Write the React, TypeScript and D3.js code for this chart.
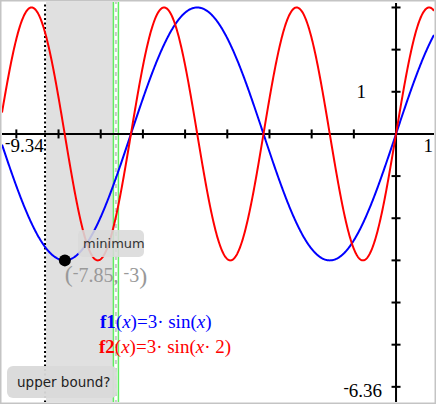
import React from "react";
import * as d3 from "d3";

const W = 436;
const H = 404;
const xDomain = [-9.34, 0.9];
const yDomain = [-6.36, 3.13];
const xTicks = [-9, -8, -7, -6, -5, -4, -3, -2, -1];
const yTicks = [3, 2, 1, -1, -2, -3, -4, -5, -6];
const xMinLabel = "⁻9.34";
const xMaxLabel = "1";
const yMinLabel = "⁻6.36";
const yTickLabel = "1";
const lowerBound = -8.32;
const upperBound = -6.64;
const minPoint = { x: -7.85, y: -3 };
const minLabelParts = ["⁻7.85", ", ", "⁻3"];
const f1 = (x: number) => 3 * Math.sin(x);
const f2 = (x: number) => 3 * Math.sin(x * 2);

function TiNum({ s, fs }: { s: string; fs: number }) {
  const parts = s.split("⁻");
  const out: any[] = [];
  parts.forEach((p, i) => {
    if (i > 0) {
      out.push(
        <tspan key={"m" + i} dy={-fs * 0.22} fontSize={fs * 0.85}>
          -
        </tspan>
      );
      out.push(
        <tspan key={"p" + i} dy={fs * 0.22} fontSize={fs}>
          {p}
        </tspan>
      );
    } else if (p) {
      out.push(<tspan key={"p" + i}>{p}</tspan>);
    }
  });
  return <>{out}</>;
}

export default function App() {
  const x = d3.scaleLinear().domain(xDomain).range([2, 434]);
  const y = d3.scaleLinear().domain(yDomain).range([402, 2]);
  const samples = d3.range(xDomain[0], xDomain[1] + 0.001, 0.01);
  const line = (f: (v: number) => number) =>
    d3
      .line<number>()
      .x((d) => x(d))
      .y((d) => y(f(d)))(samples) || "";
  const x0 = x(0);
  const y0 = y(0);
  const serif = "'Liberation Serif', 'DejaVu Serif', serif";
  const sans = "'DejaVu Sans', sans-serif";
  const lb = x(lowerBound);
  const ub = x(upperBound);
  const mx = x(minPoint.x);
  const my = y(minPoint.y);
  return (
    <svg width={W} height={H} style={{ position: "absolute", left: 0, top: 0 }}>
      <defs>
        <clipPath id="clip">
          <rect x={2} y={2} width={W - 4} height={H - 4} />
        </clipPath>
      </defs>
      <rect x={0} y={0} width={W} height={H} fill="#fff" />
      <g clipPath="url(#clip)">
        <rect x={lb + 1} y={0} width={ub - lb - 3} height={H} fill="#e0e0e0" />
        <line x1={lb} x2={lb} y1={0} y2={H} stroke="#000" strokeWidth={2} strokeDasharray="2,2.5" />
        <line x1={ub - 2.5} x2={ub - 2.5} y1={0} y2={H} stroke="#5fee5f" strokeWidth={1.5} />
        <line x1={ub + 2.5} x2={ub + 2.5} y1={0} y2={H} stroke="#5fee5f" strokeWidth={1.5} />
        <line x1={ub} x2={ub} y1={0} y2={H} stroke="#c8c8c8" strokeWidth={2} strokeDasharray="4,4" />
        {/* axes */}
        <line x1={0} x2={W} y1={y0} y2={y0} stroke="#000" strokeWidth={2} />
        <line x1={x0} x2={x0} y1={3} y2={H} stroke="#000" strokeWidth={2} />
        {xTicks.map((t) => (
          <line key={"xt" + t} x1={x(t)} x2={x(t)} y1={y0 - 4.5} y2={y0 + 4.5} stroke="#000" strokeWidth={2} />
        ))}
        {yTicks.map((t) => (
          <line key={"yt" + t} x1={x0 - 4.5} x2={x0 + 4.5} y1={y(t)} y2={y(t)} stroke="#000" strokeWidth={2} />
        ))}
        <path d={line(f1)} fill="none" stroke="#0000ff" strokeWidth={2} />
        <path d={line(f2)} fill="none" stroke="#ff0000" strokeWidth={2} />
        {/* tick labels */}
        <text x={5} y={y0 + 18} fontFamily={serif} fontSize={19} fill="#000">
          <TiNum s={xMinLabel} fs={19} />
        </text>
        <text x={433} y={y0 + 18} fontFamily={serif} fontSize={19} fill="#000" textAnchor="end">{xMaxLabel}</text>
        <text x={x0 - 30} y={y(1) + 6} fontFamily={serif} fontSize={19} fill="#000" textAnchor="end">{yTickLabel}</text>
        <text x={x0 - 14} y={H - 7} fontFamily={serif} fontSize={19} fill="#000" textAnchor="end">
          <TiNum s={yMinLabel} fs={19} />
        </text>
        {/* minimum marker */}
        <rect x={78} y={230} width={66} height={27} rx={5} fill="#d9d9d9" opacity={0.88} />
        <text x={83} y={248} fontFamily={sans} fontSize={13} fill="#333">minimum</text>
        <circle cx={mx} cy={my} r={6} fill="#000" />
        <text x={mx} y={my + 20} fontFamily={serif} fontSize={20} fill="#999">
          <tspan fontSize={24} dy={2}>(</tspan>
          <tspan dy={-2}></tspan>
          <TiNum s={minLabelParts[0]} fs={20} />
          <tspan>{minLabelParts[1]}</tspan>
          <TiNum s={minLabelParts[2]} fs={20} />
          <tspan fontSize={24} dy={2}>)</tspan>
        </text>
        {/* function labels */}
        <text x={100} y={328} fontFamily={serif} fontSize={19} fill="#0000ff">
          <tspan fontWeight="bold">f1</tspan>
          <tspan>(</tspan>
          <tspan fontStyle="italic">x</tspan>
          <tspan>)=3· sin(</tspan>
          <tspan fontStyle="italic">x</tspan>
          <tspan>)</tspan>
        </text>
        <text x={99} y={353} fontFamily={serif} fontSize={19} fill="#ff0000">
          <tspan fontWeight="bold">f2</tspan>
          <tspan>(</tspan>
          <tspan fontStyle="italic">x</tspan>
          <tspan>)=3· sin(</tspan>
          <tspan fontStyle="italic">x</tspan>
          <tspan>· 2)</tspan>
        </text>
        {/* upper bound prompt */}
        <rect x={7} y={366} width={110} height={32} rx={6} fill="#d9d9d9" opacity={0.95} />
        <text x={17} y={387} fontFamily={sans} fontSize={13.5} fill="#222">upper bound?</text>
      </g>
      <rect x={0.5} y={0.5} width={W - 1} height={H - 1} fill="none" stroke="#c4c4c4" strokeWidth={2} />
    </svg>
  );
}
